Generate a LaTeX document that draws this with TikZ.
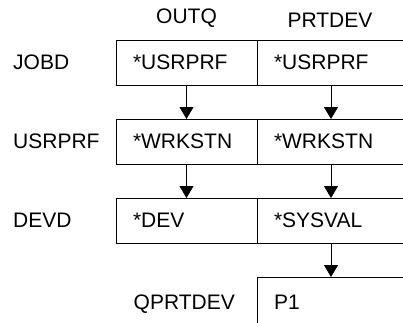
\documentclass[tikz,border=0pt]{standalone}
\usepackage{fontspec}
\setmainfont{Liberation Sans}
\usetikzlibrary{arrows.meta, positioning}

\begin{document}
\begin{tikzpicture}[x=1pt,y=-1pt,font=\fontsize{21}{25}\selectfont,node distance=34pt,cell/.style={rectangle, draw, line width=0.8pt, outer sep=0pt, inner xsep=17pt, inner ysep=4pt, minimum height=45pt, align=left},left cell/.style={cell, text width=107pt},right cell/.style={cell, text width=114pt},arrow/.style={-{Triangle[length=12pt,width=14pt]}, line width=0.8pt},rowlabel/.style={inner sep=0pt, anchor=west},head/.style={inner sep=0pt}]
\clip (0,0) rectangle (403,322);
\coordinate (margin) at (13,0);
% first column
\node[left cell, anchor=north west] (outqJ) at (116,40) {*USRPRF};
\node[left cell, below=of outqJ] (outqU) {*WRKSTN};
\node[left cell, below=of outqU] (outqD) {*DEV};
% second column, open to the right
\node[right cell, right=0pt of outqJ] (prtdevJ) {*USRPRF};
\node[right cell, right=0pt of outqU] (prtdevU) {*WRKSTN};
\node[right cell, right=0pt of outqD] (prtdevD) {*SYSVAL};
\node[right cell, below=of prtdevD, text height=28pt, text depth=30pt] (p1) {P1};
% headings
\node[head, above=12pt of outqJ] (outq) {OUTQ};
\node[head, above=12pt of prtdevJ, xshift=-1pt] (prtdev) {PRTDEV};
\node[rowlabel] (jobd) at (outqJ.west -| margin) {JOBD};
\node[rowlabel] (usrprf) at (outqU.west -| margin) {USRPRF};
\node[rowlabel] (devd) at (outqD.west -| margin) {DEVD};
\node[inner sep=0pt, anchor=base east] (qprtdev) at ([xshift=-22pt]p1.base west) {QPRTDEV};
% search order
\draw[arrow] (outqJ) -- (outqU);
\draw[arrow] (outqU) -- (outqD);
\draw[arrow] (prtdevJ) -- (prtdevU);
\draw[arrow] (prtdevU) -- (prtdevD);
\draw[arrow] (prtdevD) -- (p1);
\end{tikzpicture}
\end{document}
